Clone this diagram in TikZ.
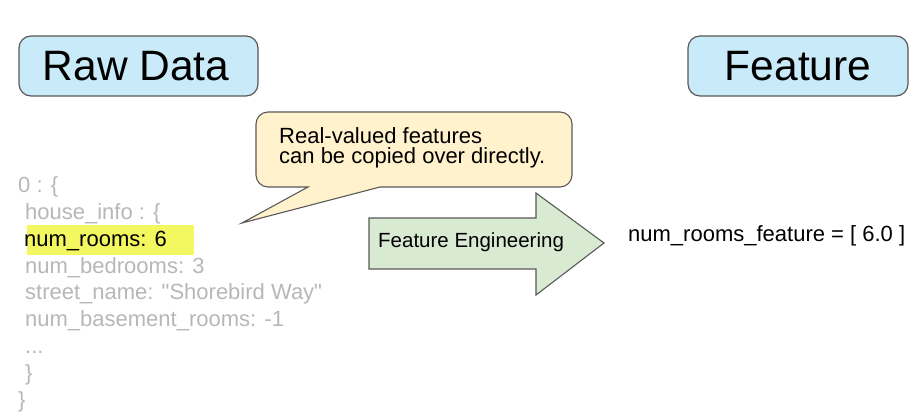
\documentclass[tikz,border=0pt]{standalone}
\usepackage{fontspec}
\setmainfont{Liberation Sans}
\definecolor{boxblue}{RGB}{201,234,248}
\definecolor{notefill}{RGB}{255,242,204}
\definecolor{arrowfill}{RGB}{217,234,211}
\definecolor{hilite}{RGB}{243,248,96}
\definecolor{edgegray}{RGB}{89,89,89}
\definecolor{jsongray}{RGB}{183,183,183}
\begin{document}
\begin{tikzpicture}[x=1pt,y=1pt,
  titlebox/.style={draw=edgegray,line width=1.2pt,fill=boxblue,rounded corners=12pt},
  titletext/.style={font=\fontsize{42.5}{48}\selectfont,inner sep=0pt},
  jsonline/.style={anchor=base west,inner sep=0pt,text=jsongray,font=\fontsize{22}{26}\selectfont},
  notetext/.style={anchor=base west,inner sep=0pt,font=\fontsize{22}{20}\selectfont},
  shapeedge/.style={draw=edgegray,line width=1.1pt,line join=miter}]
\useasboundingbox (0,0) rectangle (918,415);
% title boxes
\draw[titlebox] (19,319) rectangle (258,379);
\node[titletext] (raw) at (136,349) {Raw Data};
\draw[titlebox] (688,319) rectangle (908,379);
\node[titletext] (feat) at (798,349) {Feature};
% callout
\draw[shapeedge,fill=notefill] (256,265) -- (256,291) arc[start angle=180,end angle=90,radius=12]
  -- (560,303) arc[start angle=90,end angle=0,radius=12]
  -- (572,240) arc[start angle=0,end angle=-90,radius=12]
  -- (380,228) -- (242,192) -- (308,228) -- (268,228)
  arc[start angle=270,end angle=180,radius=12] -- cycle;
\node[notetext] (note1) at (279,271) {Real-valued features};
\node[notetext] (note2) at (279,251) {can be copied over directly.};
% arrow
\draw[shapeedge,fill=arrowfill] (369,146) -- (369,197) -- (536,197) -- (536,222) -- (604,172)
  -- (536,120) -- (536,146) -- cycle;
\node[anchor=base west,inner sep=0pt,font=\fontsize{20.5}{24}\selectfont] (fe) at (378,167) {Feature Engineering};
% feature value
\node[anchor=base west,inner sep=0pt,font=\fontsize{22}{26}\selectfont] (fval) at (628,173) {num\_rooms\_feature = [ 6.0 ]};
% raw json
\fill[hilite] (27,160) rectangle (194,190);
\node[jsonline] (l1) at (18,222) {0 : \{};
\node[jsonline] (l2) at (25,195.25) {house\_info : \{};
\node[jsonline,text=black] (l3) at (24,168.5) {num\_rooms: 6};
\node[jsonline] (l4) at (25,141.75) {num\_bedrooms: 3};
\node[jsonline] (l5) at (25,115) {street\_name: \textquotedbl Shorebird Way\textquotedbl};
\node[jsonline] (l6) at (25,88.25) {num\_basement\_rooms: -1};
\node[jsonline] (l7) at (25,61.5) {...};
\node[jsonline] (l8) at (25,34.75) {\}};
\node[jsonline] (l9) at (18,8) {\}};
\end{tikzpicture}
\end{document}
